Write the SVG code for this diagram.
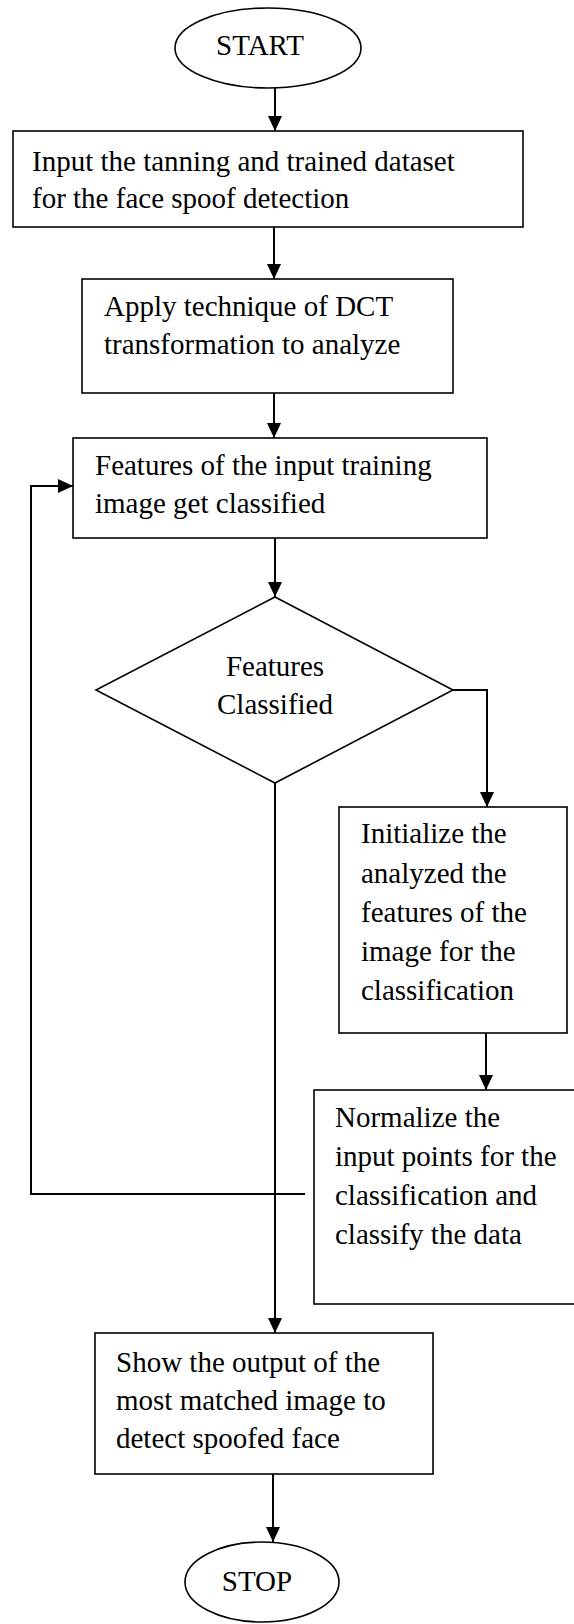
<svg xmlns="http://www.w3.org/2000/svg" width="574" height="1624" viewBox="0 0 574 1624">
  <style>
    .shape { fill: #ffffff; stroke: #000000; stroke-width: 1.6; }
    .wire { fill: none; stroke: #000000; stroke-width: 2; }
    .label { font-family: "Liberation Serif", "Times New Roman", serif; font-size: 29px; fill: #000000; }
    .mid { text-anchor: middle; }
  </style>
  <defs>
    <marker id="arrowhead" markerUnits="userSpaceOnUse" markerWidth="15" markerHeight="14" refX="15" refY="7" orient="auto">
      <path d="M0,0 L15,7 L0,14 Z" fill="#000000"/>
    </marker>
  </defs>
  <rect width="574" height="1624" fill="#ffffff"/>

  <!-- connectors -->
  <g id="connectors">
    <line class="wire" x1="275" y1="88" x2="275" y2="131" marker-end="url(#arrowhead)"/>
    <line class="wire" x1="274" y1="227" x2="274" y2="279" marker-end="url(#arrowhead)"/>
    <line class="wire" x1="274" y1="393" x2="274" y2="438" marker-end="url(#arrowhead)"/>
    <line class="wire" x1="275" y1="538" x2="275" y2="597" marker-end="url(#arrowhead)"/>
    <polyline class="wire" points="453,690 487,690 487,807" marker-end="url(#arrowhead)"/>
    <line class="wire" x1="486" y1="1033" x2="486" y2="1090" marker-end="url(#arrowhead)"/>
    <polyline class="wire" points="305,1194 31,1194 31,486 73,486" marker-end="url(#arrowhead)"/>
    <line class="wire" x1="275" y1="783" x2="275" y2="1333" marker-end="url(#arrowhead)"/>
    <line class="wire" x1="273" y1="1474" x2="273" y2="1542" marker-end="url(#arrowhead)"/>
  </g>

  <!-- terminator: start -->
  <g id="start">
    <ellipse class="shape" cx="268" cy="48" rx="93" ry="40"/>
    <text class="label mid" x="260" y="55">START</text>
  </g>

  <!-- step: load datasets -->
  <g id="input-dataset">
    <rect class="shape" x="13" y="131" width="510" height="96"/>
    <text class="label" x="32" y="171">Input the tanning and trained dataset</text>
    <text class="label" x="32" y="208">for the face spoof detection</text>
  </g>

  <!-- step: DCT -->
  <g id="apply-dct">
    <rect class="shape" x="82" y="279" width="371" height="114"/>
    <text class="label" x="104" y="316">Apply technique of DCT</text>
    <text class="label" x="104" y="354">transformation to analyze</text>
  </g>

  <!-- step: classify features -->
  <g id="classify-features">
    <rect class="shape" x="73" y="438" width="414" height="100"/>
    <text class="label" x="95" y="475">Features of the input training</text>
    <text class="label" x="95" y="513">image get classified</text>
  </g>

  <!-- decision -->
  <g id="decision">
    <polygon class="shape" points="275,597 453,690 275,783 96,690"/>
    <text class="label mid" x="275" y="676">Features</text>
    <text class="label mid" x="275" y="714">Classified</text>
  </g>

  <!-- step: initialize -->
  <g id="initialize">
    <rect class="shape" x="339" y="807" width="228" height="226"/>
    <text class="label" x="361" y="843">Initialize the</text>
    <text class="label" x="361" y="883">analyzed the</text>
    <text class="label" x="361" y="922">features of the</text>
    <text class="label" x="361" y="961">image for the</text>
    <text class="label" x="361" y="1000">classification</text>
  </g>

  <!-- step: normalize -->
  <g id="normalize">
    <rect class="shape" x="314" y="1090" width="270" height="214"/>
    <text class="label" x="335" y="1127">Normalize the</text>
    <text class="label" x="335" y="1166">input points for the</text>
    <text class="label" x="335" y="1205">classification and</text>
    <text class="label" x="335" y="1244">classify the data</text>
  </g>

  <!-- step: output -->
  <g id="show-output">
    <rect class="shape" x="95" y="1333" width="338" height="141"/>
    <text class="label" x="116" y="1372">Show the output of the</text>
    <text class="label" x="116" y="1410">most matched image to</text>
    <text class="label" x="116" y="1448">detect spoofed face</text>
  </g>

  <!-- terminator: stop -->
  <g id="stop">
    <ellipse class="shape" cx="262" cy="1582" rx="77" ry="40"/>
    <text class="label mid" x="257" y="1591">STOP</text>
  </g>
</svg>
